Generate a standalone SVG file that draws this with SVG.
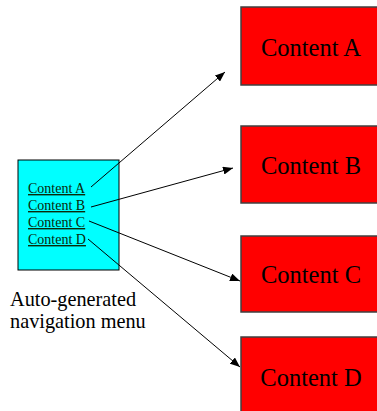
<svg xmlns="http://www.w3.org/2000/svg" width="377" height="411" viewBox="0 0 377 411">
<style>
.content rect{fill:#ff0000;stroke:#404040;stroke-width:1.5}
.content text{font-family:"Liberation Serif",serif;font-size:24.5px;fill:#000;text-anchor:middle}
.link{font-family:"Liberation Serif",serif;font-size:14px;fill:#0a2a0a;text-decoration:underline}
.label{font-family:"Liberation Serif",serif;font-size:20.3px;fill:#000}
#connectors line{stroke:#000;stroke-width:1;marker-end:url(#arrow)}
</style>
<defs>
<marker id="arrow" viewBox="0 0 10 8" refX="10" refY="4" markerWidth="10" markerHeight="8" markerUnits="userSpaceOnUse" orient="auto">
<path d="M0,0 L10,4 L0,8 Z" fill="#000"/>
</marker>
</defs>
<rect width="377" height="411" fill="#fff"/>
<g id="menu">
<rect x="18" y="160" width="101" height="110" fill="#00ffff" stroke="#000" stroke-width="1"/>
<text class="link" x="28" y="193">Content A</text>
<text class="link" x="28" y="210">Content B</text>
<text class="link" x="28" y="227">Content C</text>
<text class="link" x="28" y="244">Content D</text>
</g>
<g id="menu-label">
<text class="label" x="10" y="306">Auto-generated</text>
<text class="label" x="10" y="328">navigation menu</text>
</g>
<g id="contentA" class="content">
<rect x="241" y="7" width="140" height="78"/>
<text x="311" y="56">Content A</text>
</g>
<g id="contentB" class="content">
<rect x="241" y="126" width="140" height="77"/>
<text x="311" y="174">Content B</text>
</g>
<g id="contentC" class="content">
<rect x="241" y="236" width="140" height="76"/>
<text x="311" y="283">Content C</text>
</g>
<g id="contentD" class="content">
<rect x="241" y="337" width="140" height="80"/>
<text x="311" y="386">Content D</text>
</g>
<g id="connectors">
<line x1="91" y1="187" x2="225" y2="72"/>
<line x1="91" y1="207" x2="233" y2="168"/>
<line x1="89" y1="221" x2="240" y2="281"/>
<line x1="88" y1="239" x2="240" y2="367"/>
</g>
</svg>
